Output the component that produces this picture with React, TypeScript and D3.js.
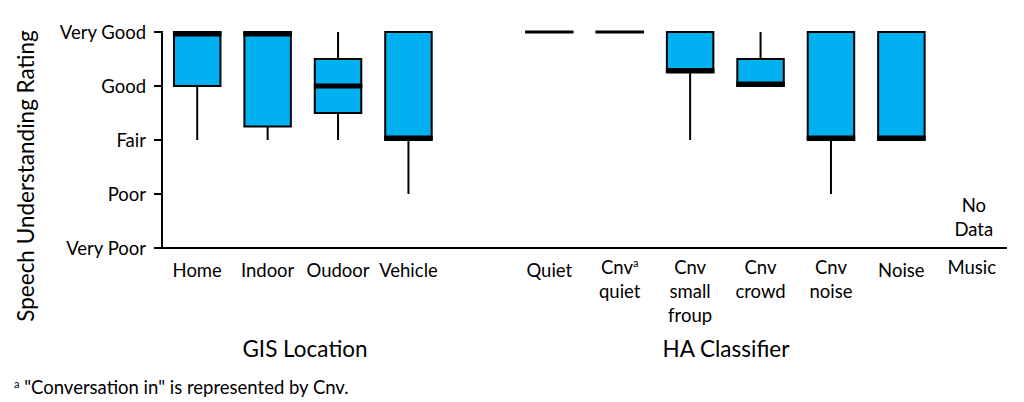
import { scaleBand, scaleLinear } from 'd3';

const width = 1024;
const height = 402;
const axisX = 162;
const axisEnd = 1007;
const yTop = 32;
const yBottom = 248;

const levels = ['Very Poor', 'Poor', 'Fair', 'Good', 'Very Good'];
const levelValues = [1, 2, 3, 4, 5];

// slot keys, "gap" is the empty slot between the two groups
const slots = ['Home', 'Indoor', 'Oudoor', 'Vehicle', 'gap', 'Quiet', 'CnvQuiet', 'CnvSmall', 'CnvCrowd', 'CnvNoise', 'Noise', 'Music'];
const slotLabels = [['Home'], ['Indoor'], ['Oudoor'], ['Vehicle'], [], ['Quiet'], ['Cnv^a', 'quiet'], ['Cnv', 'small', 'froup'], ['Cnv', 'crowd'], ['Cnv', 'noise'], ['Noise'], ['Music']];

// whisker low, q1, median, q3, whisker high (null = no data)
const lows = [3, 3, 3, 2, null, 5, 5, 3, 4, 2, 3, null];
const q1s = [4, 3.25, 3.5, 3, null, 5, 5, 4.25, 4, 3, 3, null];
const medians = [5, 5, 4, 3, null, 5, 5, 4.25, 4, 3, 3, null];
const q3s = [5, 5, 4.5, 5, null, 5, 5, 5, 4.5, 5, 5, null];
const highs = [5, 5, 5, 5, null, 5, 5, 5, 5, 5, 5, null];

const groups = ['GIS Location', 'HA Classifier'];
const groupCenters = [305, 726];

const font = 'Lato, "Open Sans", sans-serif';
const fill = '#00B0F0';
const fs = 18.5;

const x = scaleBand().domain(slots).range([axisX, axisEnd]).padding(0);
const y = scaleLinear().domain([1, 5]).range([yBottom, yTop]);

const App = () => {
  const bw = x.bandwidth() * 0.66;
  const musicX = x('Music')! + x.bandwidth() / 2 + 2;
  return (
    <svg width={width} height={height} style={{ position: 'absolute', left: 0, top: 0, background: '#fff' }}>
      {/* axes */}
      <line x1={axisX} x2={axisX} y1={yTop - 1} y2={yBottom} stroke="#000" strokeWidth={2} />
      <line x1={axisX - 1} x2={axisEnd} y1={yBottom} y2={yBottom} stroke="#000" strokeWidth={2} />
      {levelValues.map((v, i) => (
        <g key={v}>
          <line x1={axisX - 8} x2={axisX} y1={y(v)} y2={y(v)} stroke="#000" strokeWidth={2} />
          <text x={axisX - 16} y={y(v)} textAnchor="end" dominantBaseline="central" fontFamily={font} fontSize={fs}>
            {levels[i]}
          </text>
        </g>
      ))}

      {/* boxes */}
      {slots.map((s, i) => {
        if (medians[i] == null) return null;
        const cx = x(s)! + x.bandwidth() / 2;
        const x0 = cx - bw / 2;
        const top = y(q3s[i]!);
        const bot = y(q1s[i]!);
        const flat = q3s[i] === q1s[i];
        const off = flat ? 0 : medians[i] === q3s[i] ? 2 : medians[i] === q1s[i] ? -2 : 0;
        return (
          <g key={s}>
            <line x1={cx} x2={cx} y1={y(highs[i]!)} y2={top} stroke="#000" strokeWidth={2} />
            <line x1={cx} x2={cx} y1={bot} y2={y(lows[i]!)} stroke="#000" strokeWidth={2} />
            {!flat && <rect x={x0} y={top} width={bw} height={bot - top} fill={fill} stroke="#000" strokeWidth={2} />}
            <line
              x1={x0 - 1}
              x2={x0 + bw + 1}
              y1={y(medians[i]!) + off}
              y2={y(medians[i]!) + off}
              stroke="#000"
              strokeWidth={flat ? 3 : 5}
            />
          </g>
        );
      })}

      {/* no data note */}
      <text x={musicX} y={212} textAnchor="middle" fontFamily={font} fontSize={fs}>
        <tspan x={musicX} dy={0}>No</tspan>
        <tspan x={musicX} dy={24}>Data</tspan>
      </text>

      {/* category labels */}
      {slots.map((s, i) => {
        const cx = x(s)! + x.bandwidth() / 2;
        const lines = slotLabels[i];
        const startY = lines.length > 1 || s === 'Music' ? 274 : 277;
        return (
          <text key={s} x={cx} y={startY} textAnchor="middle" fontFamily={font} fontSize={fs}>
            {lines.map((l, j) => (
              <tspan key={j} x={cx} y={startY + j * 24}>
                {l.endsWith('^a') ? (
                  <>
                    {l.replace('^a', '')}
                    <tspan fontSize={11} dy={-7}>a</tspan>
                  </>
                ) : (
                  l
                )}
              </tspan>
            ))}
          </text>
        );
      })}

      {/* group titles */}
      {groups.map((g, i) => (
        <text key={g} x={groupCenters[i]} y={357} textAnchor="middle" fontFamily={font} fontSize={22.5}>
          {g}
        </text>
      ))}

      {/* y title */}
      <text transform="translate(34,176) rotate(-90)" textAnchor="middle" fontFamily={font} fontSize={22.5}>
        Speech Understanding Rating
      </text>

      {/* footnote */}
      <text x={14} y={394} fontFamily={font} fontSize={18.5}>
        <tspan fontSize={11} dy={-6}>a</tspan>
        <tspan dy={6}> "Conversation in" is represented by Cnv.</tspan>
      </text>
    </svg>
  );
};

export default App;
